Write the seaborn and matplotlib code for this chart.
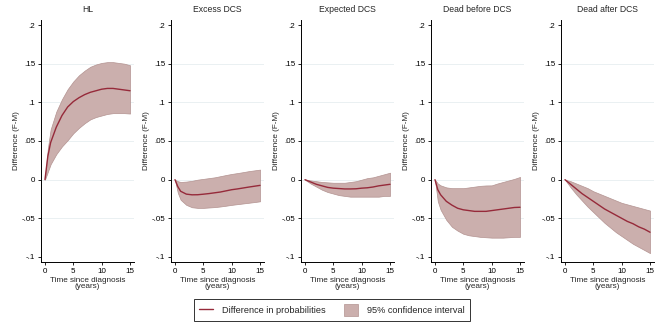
import numpy as np
import pandas as pd
import matplotlib
matplotlib.use("Agg")
import matplotlib.pyplot as plt
import seaborn as sns
from matplotlib.lines import Line2D
from matplotlib.patches import Patch

# ---- data ----
time = [0, 0.5, 1, 2, 3, 4, 5, 6, 7, 8, 9, 10, 11, 12, 13, 14, 15]
panels = ["HL", "Excess DCS", "Expected DCS", "Dead before DCS", "Dead after DCS"]

hl_mean = [0, 0.030, 0.048, 0.068, 0.083, 0.094, 0.101, 0.106, 0.110, 0.113, 0.115, 0.117, 0.118, 0.118, 0.117, 0.116, 0.115]
hl_up = [0, 0.040, 0.065, 0.088, 0.104, 0.117, 0.127, 0.135, 0.141, 0.146, 0.149, 0.151, 0.152, 0.152, 0.151, 0.150, 0.148]
hl_lo = [0, 0.010, 0.020, 0.033, 0.043, 0.051, 0.060, 0.067, 0.073, 0.078, 0.081, 0.083, 0.085, 0.086, 0.086, 0.086, 0.0855]

ex_mean = [0, -0.009, -0.015, -0.0187, -0.0196, -0.0195, -0.0188, -0.018, -0.017, -0.016, -0.0145, -0.013, -0.012, -0.0108, -0.0096, -0.0085, -0.0074]
ex_up = [0, -0.002, -0.003, -0.0025, -0.0015, 0.0, 0.001, 0.002, 0.003, 0.0045, 0.006, 0.0074, 0.0085, 0.0097, 0.011, 0.012, 0.013]
ex_lo = [0, -0.017, -0.026, -0.0326, -0.0357, -0.0365, -0.0365, -0.036, -0.0355, -0.0347, -0.0337, -0.0326, -0.0317, -0.0308, -0.0299, -0.029, -0.028]

xp_mean = [0, -0.0015, -0.003, -0.006, -0.008, -0.010, -0.011, -0.0115, -0.012, -0.012, -0.0118, -0.011, -0.0105, -0.0095, -0.008, -0.007, -0.006]
xp_up = [0, -0.0005, -0.001, -0.002, -0.003, -0.0035, -0.004, -0.004, -0.004, -0.003, -0.002, 0.000, 0.002, 0.003, 0.005, 0.007, 0.009]
xp_lo = [0, -0.0025, -0.005, -0.009, -0.013, -0.016, -0.018, -0.020, -0.021, -0.022, -0.022, -0.022, -0.022, -0.022, -0.022, -0.021, -0.021]

db_mean = [0, -0.013, -0.0196, -0.028, -0.033, -0.037, -0.039, -0.040, -0.041, -0.041, -0.041, -0.040, -0.039, -0.038, -0.037, -0.036, -0.0357]
db_up = [0, -0.005, -0.0074, -0.010, -0.011, -0.011, -0.011, -0.010, -0.009, -0.008, -0.0075, -0.0074, -0.005, -0.003, -0.001, 0.001, 0.0035]
db_lo = [0, -0.028, -0.039, -0.052, -0.061, -0.066, -0.070, -0.072, -0.073, -0.074, -0.0745, -0.075, -0.075, -0.075, -0.0745, -0.074, -0.074]

da_mean = [0, -0.003, -0.006, -0.012, -0.018, -0.023, -0.028, -0.033, -0.038, -0.042, -0.046, -0.050, -0.054, -0.057, -0.061, -0.064, -0.068]
da_up = [0, -0.001, -0.002, -0.005, -0.008, -0.011, -0.015, -0.018, -0.021, -0.024, -0.027, -0.030, -0.032, -0.034, -0.036, -0.038, -0.040]
da_lo = [0, -0.005, -0.010, -0.019, -0.027, -0.035, -0.042, -0.049, -0.056, -0.062, -0.068, -0.073, -0.078, -0.083, -0.087, -0.091, -0.095]

means = [hl_mean, ex_mean, xp_mean, db_mean, da_mean]
uppers = [hl_up, ex_up, xp_up, db_up, da_up]
lowers = [hl_lo, ex_lo, xp_lo, db_lo, da_lo]

yticks = [-0.1, -0.05, 0, 0.05, 0.1, 0.15, 0.2]
ytick_labels = ["-.1", "-.05", "0", ".05", ".1", ".15", ".2"]
xticks = [0, 5, 10, 15]

# ---- style ----
sns.set_style("white")
plt.rcParams["font.family"] = ["Liberation Sans", "DejaVu Sans"]

line_col = "#962A3A"
fill_col = "#CBAFAD"
edge_col = "#B39391"
grid_col = "#E6EEF0"
fs = 5.8

fig = plt.figure(figsize=(6.64, 3.32), dpi=100)
W, H = 664, 332
for i, name in enumerate(panels):
    left = (41 + 130 * i) / W
    ax = fig.add_axes([left, (H - 262) / H, 93 / W, (262 - 20) / H])
    df = pd.DataFrame({"time": time, "mean": means[i], "up": uppers[i], "lo": lowers[i]})
    ax.fill_between(df["time"], df["lo"], df["up"], facecolor=fill_col,
                    edgecolor=edge_col, linewidth=0.5, zorder=2)
    sns.lineplot(data=df, x="time", y="mean", ax=ax, color=line_col,
                 linewidth=1.0, zorder=3)
    ax.set_xlim(-0.7, 15.7)
    ax.set_ylim(-0.1065, 0.2065)
    for g in [-0.05, 0, 0.05, 0.1, 0.15]:
        ax.axhline(g, color=grid_col, linewidth=0.6, zorder=1)
    ax.set_yticks(yticks)
    ax.set_yticklabels(ytick_labels)
    ax.set_xticks(xticks)
    ax.tick_params(axis="both", which="both", direction="out", length=2.5,
                   width=0.6, labelsize=fs, pad=1.5, colors="black",
                   left=True, bottom=True)
    for s in ["top", "right"]:
        ax.spines[s].set_visible(False)
    for s in ["left", "bottom"]:
        ax.spines[s].set_color("black")
        ax.spines[s].set_linewidth(0.7)
    ax.set_title(name, fontsize=fs + 0.4, pad=6)
    ax.set_xlabel("Time since diagnosis\n(years)", fontsize=fs + 0.1, labelpad=1.5,
                  linespacing=0.95)
    ax.set_ylabel("Difference (F-M)", fontsize=fs + 0.1, labelpad=1.5)

handles = [Line2D([0], [0], color=line_col, linewidth=1.0),
           Patch(facecolor=fill_col, edgecolor=edge_col, linewidth=0.5)]
labels = ["Difference in probabilities", "95% confidence interval"]
leg = fig.legend(handles, labels, loc="center", bbox_to_anchor=(332 / W, 1 - 310 / H),
                 ncol=2, fontsize=fs + 0.8, frameon=True, fancybox=False,
                 edgecolor="black", handlelength=1.5, handleheight=1.5,
                 columnspacing=2.0, borderpad=0.55, handletextpad=1.0)
leg.get_frame().set_linewidth(0.7)

fig.savefig("out.png", dpi=100, facecolor="white")
